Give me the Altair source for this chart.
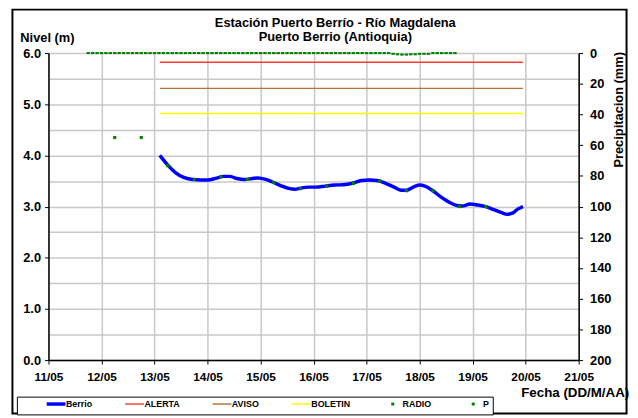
import altair as alt
import pandas as pd

FONT = "Liberation Sans"

# ---------------- data ----------------
series_names = ["Berrio", "ALERTA", "AVISO", "BOLETIN", "RADIO", "P"]
series_colors = ["#0000FF", "#FF3B3B", "#B5733A", "#FFFF00", "#008000", "#008000"]

berrio_time = [
    "2013-05-13T02:24", "2013-05-13T06:00", "2013-05-13T09:36", "2013-05-13T13:12",
    "2013-05-13T17:30", "2013-05-14T00:00", "2013-05-14T03:36", "2013-05-14T07:12",
    "2013-05-14T10:00", "2013-05-14T13:12", "2013-05-14T16:48", "2013-05-14T20:24",
    "2013-05-14T22:48", "2013-05-15T02:24", "2013-05-15T06:00", "2013-05-15T09:36",
    "2013-05-15T13:12", "2013-05-15T15:36", "2013-05-15T18:00", "2013-05-15T21:36",
    "2013-05-16T01:12", "2013-05-16T05:15", "2013-05-16T09:36", "2013-05-16T14:24",
    "2013-05-16T18:00", "2013-05-16T21:36", "2013-05-17T01:12", "2013-05-17T04:48",
    "2013-05-17T08:24", "2013-05-17T12:00", "2013-05-17T15:36", "2013-05-17T18:00",
    "2013-05-17T21:36", "2013-05-18T00:00", "2013-05-18T02:24", "2013-05-18T06:00",
    "2013-05-18T09:36", "2013-05-18T13:12", "2013-05-18T16:48", "2013-05-18T19:12",
    "2013-05-18T22:48", "2013-05-19T02:24", "2013-05-19T06:00", "2013-05-19T09:36",
    "2013-05-19T13:12", "2013-05-19T15:36", "2013-05-19T18:00", "2013-05-19T20:24",
    "2013-05-19T22:48",
]
berrio_level = [
    4.00, 3.81, 3.66, 3.57,
    3.53, 3.52, 3.55, 3.59,
    3.59, 3.55, 3.53, 3.55,
    3.56, 3.53, 3.47, 3.40,
    3.35, 3.34, 3.36, 3.38,
    3.38, 3.40, 3.42, 3.43,
    3.46, 3.51, 3.52, 3.51,
    3.46, 3.39, 3.32, 3.32,
    3.39, 3.42, 3.40, 3.31,
    3.19, 3.09, 3.02, 3.01,
    3.05, 3.03, 3.00, 2.94,
    2.88, 2.85, 2.87, 2.95,
    3.00,
]

threshold_names = ["ALERTA", "AVISO", "BOLETIN"]
threshold_levels = [5.82, 5.31, 4.82]
threshold_span = ["2013-05-13T02:24", "2013-05-19T22:48"]

radio_time = [
    "2013-05-12T06:00", "2013-05-12T18:00", "2013-05-13T06:00", "2013-05-13T18:00",
    "2013-05-14T06:00", "2013-05-14T18:00", "2013-05-15T06:00", "2013-05-15T18:00",
    "2013-05-16T06:00", "2013-05-16T18:00", "2013-05-17T06:00", "2013-05-17T18:00",
    "2013-05-18T06:00", "2013-05-18T18:00", "2013-05-19T06:00",
]
radio_level = [
    4.35, 4.35, 3.80, 3.53,
    3.58, 3.53, 3.47, 3.35,
    3.40, 3.45, 3.50, 3.31,
    3.31, 3.00, 3.00,
]

# precipitation every 2 hours from 11/05 18:00
p_first = "2013-05-11 18:00"
p_mm = [
    0, 0, 0, 0, 0, 0, 0, 0, 0, 0,
    0, 0, 0, 0, 0, 0, 0, 0, 0, 0,
    0, 0, 0, 0, 0, 0, 0, 0, 0, 0,
    0, 0, 0, 0, 0, 0, 0, 0, 0, 0,
    0, 0, 0, 0, 0, 0, 0, 0, 0, 0,
    0, 0, 0, 0, 0, 0, 0, 0, 0, 0,
    0, 0, 0, 0, 0, 0, 0, 0, 0, 0.5,
    0.8, 1.0, 1.0, 0.8, 0.8, 0.5, 0.5, 0.5, 0, 0,
    0, 0, 0, 0,
]
p_time = [t.strftime("%Y-%m-%dT%H:%M") for t in pd.date_range(p_first, periods=len(p_mm), freq="2h")]

day_ticks = list(range(11, 22))
level_ticks = [0, 0.5, 1, 1.5, 2, 2.5, 3, 3.5, 4, 4.5, 5, 5.5, 6]
precip_ticks = [0, 20, 40, 60, 80, 100, 120, 140, 160, 180, 200]

# ---------------- tables ----------------
berrio_df = pd.DataFrame({"t": berrio_time, "v": berrio_level, "s": "Berrio"})
thr_rows = []
for name, lvl in zip(threshold_names, threshold_levels):
    for t in threshold_span:
        thr_rows.append({"t": t, "v": lvl, "s": name})
thr_df = pd.DataFrame(thr_rows)
radio_df = pd.DataFrame({"t": radio_time, "v": radio_level, "s": "RADIO"})
p_df = pd.DataFrame({"t": p_time, "p": p_mm, "s": "P"})
frame_df = pd.DataFrame({"k": [0]})

# ---------------- encodings ----------------
x_enc = alt.X(
    "t:T",
    scale=alt.Scale(
        domain=[alt.DateTime(year=2013, month=5, date=11), alt.DateTime(year=2013, month=5, date=21)],
        nice=False,
    ),
    axis=alt.Axis(
        values=[alt.DateTime(year=2013, month=5, date=d) for d in day_ticks],
        format="%d/%m",
        grid=True,
        gridColor="#C8C8C8",
        gridWidth=1.5,
        domainColor="black",
        domainWidth=1.5,
        tickColor="black",
        tickSize=4,
        labelPadding=8,
        labelFontSize=12,
        labelFlush=False,
        labelOverlap=False,
        title="Fecha (DD/M/AA)",
        titleX=533,
        titleY=33,
        titleAlign="center",
        titleBaseline="middle",
        titleFontSize=13.5,
    ),
)

y_left = alt.Y(
    "v:Q",
    scale=alt.Scale(domain=[0, 6], nice=False, zero=False),
    axis=alt.Axis(
        values=level_ticks,
        labelExpr="datum.value % 1 == 0 ? format(datum.value, '.1f') : ''",
        grid=True,
        gridColor="#C8C8C8",
        gridWidth=1.5,
        domainColor="black",
        domainWidth=1.5,
        tickColor=alt.condition("datum.value % 1 == 0", alt.value("black"), alt.value("transparent")),
        tickSize=4,
        labelPadding=4,
        labelFontSize=13,
        labelFlush=False,
        labelOverlap=False,
        title="Nivel (m)",
        titleAngle=0,
        titleX=-29,
        titleY=-16,
        titleAlign="left",
        titleBaseline="middle",
        titleFontSize=13,
    ),
)

y_right = alt.Y(
    "p:Q",
    scale=alt.Scale(domain=[0, 200], reverse=True, nice=False),
    axis=alt.Axis(
        orient="right",
        values=precip_ticks,
        grid=False,
        domainColor="black",
        domainWidth=1.5,
        tickColor="black",
        tickSize=4,
        labelPadding=7,
        labelFontSize=13,
        labelFlush=False,
        labelOverlap=False,
        title="Precipitacion (mm)",
        titleAngle=270,
        titleX=40,
        titleY=57,
        titleAlign="center",
        titleBaseline="middle",
        titleFontSize=13,
    ),
)

is_pt = "indexof(['RADIO','P'], datum.value) >= 0"
nbsp = "\u00a0" * 13
legend = alt.Legend(
    title=None,
    orient="none",
    legendX=-32,
    legendY=348,
    direction="horizontal",
    strokeColor="black",
    fillColor="white",
    padding=3,
    labelFont=FONT,
    labelFontSize=9,
    labelFontWeight="bold",
    labelColor="black",
    labelOffset=5.5,
    labelExpr=f"datum.label == 'P' ? 'P{nbsp}' : datum.label",
    symbolOffset=32.2,
    symbolType=alt.ExprRef(expr=f"{is_pt} ? 'square' : 'stroke'"),
    symbolSize=alt.ExprRef(expr=f"{is_pt} ? 9 : 361"),
    symbolStrokeWidth=alt.ExprRef(expr=f"datum.value == 'Berrio' ? 3.5 : ({is_pt} ? 0 : 1.5)"),
    symbolStrokeColor=alt.ExprRef(expr="scale('color', datum.value)"),
    symbolFillColor=alt.ExprRef(expr="scale('color', datum.value)"),
    symbolOpacity=1,
    columnPadding=5.5,
    gridAlign="none",
)
color_enc = alt.Color(
    "s:N",
    scale=alt.Scale(domain=series_names, range=series_colors),
    legend=legend,
)

# ---------------- layers ----------------
frame = alt.Chart(frame_df).mark_rect(fillOpacity=0, stroke="black", strokeWidth=2).encode(
    x=alt.value(-36.5), x2=alt.value(585.5), y=alt.value(-44), y2=alt.value(365)
)
thresholds = alt.Chart(thr_df).mark_line(strokeWidth=1.5).encode(x=x_enc, y=y_left, color=color_enc)
berrio = alt.Chart(berrio_df).mark_line(strokeWidth=3.5, interpolate="monotone").encode(
    x=x_enc, y=y_left, color=color_enc
)
radio = alt.Chart(radio_df).mark_point(shape="square", filled=True, size=10, opacity=1).encode(
    x=x_enc, y=y_left, color=color_enc
)
left = alt.layer(frame, thresholds, berrio, radio)

precip = alt.Chart(p_df).mark_point(
    shape="M-1,-0.6H1V0.6H-1Z", filled=True, size=12, opacity=1
).encode(x=x_enc, y=y_right, color=color_enc)

chart = (
    alt.layer(left, precip)
    .resolve_scale(y="independent")
    .properties(
        width=537,
        height=311,
        padding={"left": 41, "top": 43, "right": 52, "bottom": 56},
        autosize=alt.AutoSizeParams(type="none"),
        title=alt.TitleParams(
            text=["Estación Puerto Berrío - Río Magdalena", "Puerto Berrio (Antioquia)"],
            font=FONT,
            fontSize=13,
            fontWeight="bold",
            color="black",
            anchor="middle",
            frame="group",
            dx=22,
            lineHeight=14,
            offset=-36,
        ),
    )
    .configure_view(strokeWidth=0)
    .configure_axis(
        labelFont=FONT,
        labelFontWeight="bold",
        labelColor="black",
        titleFont=FONT,
        titleFontWeight="bold",
        titleColor="black",
    )
)

chart.save("out.html", embed_options={"renderer": "svg", "actions": False})
